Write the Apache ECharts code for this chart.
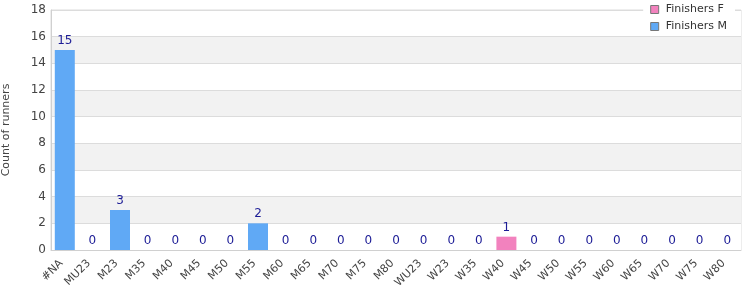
<!DOCTYPE html>
<html><head><meta charset="utf-8">
<script src="https://cdn.jsdelivr.net/npm/echarts@6/dist/echarts.min.js"></script>
<style>html,body{margin:0;padding:0;background:#fff}#c{width:750px;height:300px}</style>
</head><body><div id="c"></div>
<script>
const categories = ['#NA','MU23','M23','M35','M40','M45','M50','M55','M60','M65','M70','M75','M80','WU23','W23','W35','W40','W45','W50','W55','W60','W65','W70','W75','W80'];
const finishersF = [null,null,null,null,null,null,null,null,null,null,null,null,null,0,0,0,1,0,0,0,0,0,0,0,0];
const finishersM = [15,0,3,0,0,0,0,2,0,0,0,0,0,null,null,null,null,null,null,null,null,null,null,null,null];
const yTicks = {min:0,max:18,interval:2};
const font = 'DejaVu Sans';
const chart = echarts.init(document.getElementById('c'), null, {renderer:'canvas'});
const lbl = {show:true, position:'top', color:'#1c1c96', fontFamily:font, fontSize:12, distance:3};
chart.setOption({
  animation:false,
  textStyle:{fontFamily:font},
  grid:{left:51, right:9, top:10, bottom:50, show:true, borderColor:'#dcdcdc', borderWidth:1,
        containLabel:false, outerBoundsMode:'none'},
  legend:{
    right:15, top:2, orient:'vertical', itemWidth:8, itemHeight:8, itemGap:6,
    backgroundColor:'#fff', padding:[2,8,2,7],
    textStyle:{fontFamily:font, fontSize:11, color:'#333', padding:[0,0,0,2]},
    itemStyle:{borderColor:'#777', borderWidth:1},
    data:[{name:'Finishers F', icon:'rect'},{name:'Finishers M', icon:'rect'}]
  },
  xAxis:{
    type:'category', data:categories,
    axisLine:{lineStyle:{color:'#d0d0d0'}}, axisTick:{show:false},
    axisLabel:{rotate:45, color:'#444', fontFamily:font, fontSize:11, interval:0, margin:8, padding:[0,5,0,0]}
  },
  yAxis:{
    type:'value', min:yTicks.min, max:yTicks.max, interval:yTicks.interval,
    name:'Count of runners', nameLocation:'middle', nameGap:39,
    nameTextStyle:{color:'#444', fontFamily:font, fontSize:11},
    axisLine:{show:true, lineStyle:{color:'#d0d0d0'}}, axisTick:{show:false},
    axisLabel:{color:'#444', fontFamily:font, fontSize:12, margin:5},
    splitLine:{lineStyle:{color:'#dcdcdc'}},
    splitArea:{show:true, areaStyle:{color:['#ffffff','#f2f2f2']}}
  },
  series:[
    {name:'Finishers F', type:'bar', stack:'t', data:finishersF, barWidth:20,
     itemStyle:{color:'#f282be'}, label:lbl},
    {name:'Finishers M', type:'bar', stack:'t', data:finishersM, barWidth:20,
     itemStyle:{color:'#60a9f5'}, label:lbl}
  ]
});
</script></body></html>
